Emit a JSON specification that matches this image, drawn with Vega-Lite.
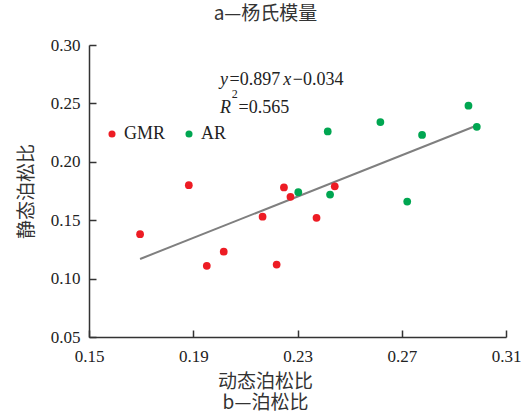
{
  "$schema": "https://vega.github.io/schema/vega-lite/v6.json",
  "autosize": {"type": "none"},
  "padding": {"left": 89, "top": 45, "right": 24, "bottom": 76},
  "width": 417,
  "height": 292,
  "background": "white",
  "title": {
    "text": "a—杨氏模量",
    "font": "Noto Sans CJK SC",
    "fontSize": 19,
    "fontWeight": "normal",
    "color": "#333333",
    "anchor": "middle",
    "dx": -32,
    "offset": 12
  },
  "datasets": {
    "pts": [
      {"dyn": 0.1696, "sta": 0.138, "group": "GMR"},
      {"dyn": 0.1883, "sta": 0.180, "group": "GMR"},
      {"dyn": 0.1952, "sta": 0.111, "group": "GMR"},
      {"dyn": 0.2017, "sta": 0.123, "group": "GMR"},
      {"dyn": 0.2166, "sta": 0.153, "group": "GMR"},
      {"dyn": 0.2220, "sta": 0.112, "group": "GMR"},
      {"dyn": 0.2248, "sta": 0.178, "group": "GMR"},
      {"dyn": 0.2273, "sta": 0.170, "group": "GMR"},
      {"dyn": 0.2373, "sta": 0.152, "group": "GMR"},
      {"dyn": 0.2443, "sta": 0.179, "group": "GMR"},
      {"dyn": 0.2303, "sta": 0.174, "group": "AR"},
      {"dyn": 0.2416, "sta": 0.226, "group": "AR"},
      {"dyn": 0.2425, "sta": 0.172, "group": "AR"},
      {"dyn": 0.2618, "sta": 0.234, "group": "AR"},
      {"dyn": 0.2721, "sta": 0.166, "group": "AR"},
      {"dyn": 0.2778, "sta": 0.223, "group": "AR"},
      {"dyn": 0.2956, "sta": 0.248, "group": "AR"},
      {"dyn": 0.2988, "sta": 0.230, "group": "AR"}
    ],
    "fit": [
      {"dyn": 0.1696, "sta": 0.1168},
      {"dyn": 0.2988, "sta": 0.2311}
    ],
    "italic": [
      {"dyn": 0.2003, "sta": 0.2658, "t": "y"},
      {"dyn": 0.2245, "sta": 0.2658, "t": "x"},
      {"dyn": 0.2003, "sta": 0.2418, "t": "R"}
    ],
    "plain": [
      {"dyn": 0.2039, "sta": 0.2658, "t": "=0.897"},
      {"dyn": 0.2282, "sta": 0.2658, "t": "−0.034"},
      {"dyn": 0.2074, "sta": 0.2418, "t": "=0.565"}
    ],
    "sup": [
      {"dyn": 0.2048, "sta": 0.2546, "t": "2"}
    ]
  },
  "layer": [
    {
      "data": {"name": "fit"},
      "mark": {"type": "line", "color": "#7f7f7f", "strokeWidth": 2},
      "encoding": {
        "x": {"field": "dyn", "type": "quantitative"},
        "y": {"field": "sta", "type": "quantitative"}
      }
    },
    {
      "data": {"name": "pts"},
      "mark": {"type": "point", "filled": true, "shape": "circle", "size": 60, "opacity": 1},
      "encoding": {
        "x": {
          "field": "dyn", "type": "quantitative",
          "scale": {"domain": [0.15, 0.31], "nice": false, "zero": false},
          "axis": {
            "values": [0.15, 0.19, 0.23, 0.27, 0.31],
            "format": ".2f",
            "labelFlush": false,
            "title": ["动态泊松比", "b—泊松比"],
            "titleX": 176,
            "titleAnchor": "middle"
          }
        },
        "y": {
          "field": "sta", "type": "quantitative",
          "scale": {"domain": [0.05, 0.30], "nice": false, "zero": false},
          "axis": {
            "values": [0.05, 0.10, 0.15, 0.20, 0.25, 0.30],
            "format": ".2f",
            "labelFlush": false,
            "title": "静态泊松比"
          }
        },
        "color": {
          "field": "group", "type": "nominal",
          "scale": {"domain": ["GMR", "AR"], "range": ["#ED1C24", "#00A651"]},
          "legend": {
            "title": null,
            "orient": "none",
            "legendX": 14,
            "legendY": 80,
            "direction": "horizontal",
            "symbolType": "circle",
            "symbolSize": 50,
            "symbolOpacity": 1,
            "labelFont": "Liberation Serif",
            "labelFontSize": 18,
            "labelColor": "#222222",
            "columnPadding": 14,
            "labelOffset": 3
          }
        }
      }
    },
    {
      "data": {"name": "italic"},
      "mark": {"type": "text", "font": "Liberation Serif", "fontSize": 18, "fontStyle": "italic", "align": "left", "baseline": "alphabetic", "color": "#222222"},
      "encoding": {
        "x": {"field": "dyn", "type": "quantitative"},
        "y": {"field": "sta", "type": "quantitative"},
        "text": {"field": "t"}
      }
    },
    {
      "data": {"name": "plain"},
      "mark": {"type": "text", "font": "Liberation Serif", "fontSize": 18, "align": "left", "baseline": "alphabetic", "color": "#222222"},
      "encoding": {
        "x": {"field": "dyn", "type": "quantitative"},
        "y": {"field": "sta", "type": "quantitative"},
        "text": {"field": "t"}
      }
    },
    {
      "data": {"name": "sup"},
      "mark": {"type": "text", "font": "Liberation Serif", "fontSize": 12, "align": "left", "baseline": "alphabetic", "color": "#222222"},
      "encoding": {
        "x": {"field": "dyn", "type": "quantitative"},
        "y": {"field": "sta", "type": "quantitative"},
        "text": {"field": "t"}
      }
    }
  ],
  "config": {
    "view": {"stroke": null},
    "axis": {
      "grid": false,
      "domainColor": "#333333",
      "domainWidth": 1.5,
      "tickColor": "#333333",
      "tickWidth": 1.5,
      "tickSize": -7,
      "labelFont": "Liberation Serif",
      "labelFontSize": 17,
      "labelColor": "#222222",
      "titleFont": "Noto Sans CJK SC",
      "titleFontSize": 19,
      "titleFontWeight": "normal",
      "titleColor": "#333333"
    },
    "axisX": {"labelPadding": 18, "titlePadding": 8, "titleLineHeight": 21},
    "axisY": {"labelPadding": 16, "titlePadding": 14}
  }
}
